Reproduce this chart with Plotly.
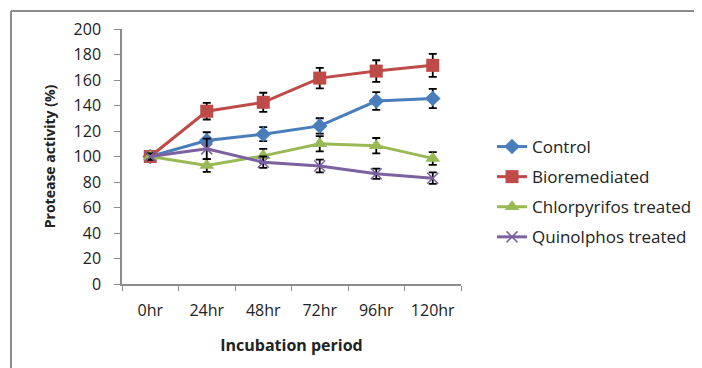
import plotly.graph_objects as go

categories = ["0hr", "24hr", "48hr", "72hr", "96hr", "120hr"]
control = [100, 112.5, 117.5, 124, 143.5, 145.5]
control_err = [2.5, 6.5, 5.5, 6, 7, 7.5]
bioremediated = [100, 135.5, 142.5, 161.5, 167, 171.5]
bioremediated_err = [2.5, 6.5, 7.5, 8, 8.5, 9]
chlorpyrifos = [100, 93, 100.5, 110, 108.5, 98.5]
chlorpyrifos_err = [2.5, 5, 5.5, 6, 6, 5]
quinolphos = [100, 106, 95.5, 92.5, 86.5, 83]
quinolphos_err = [2.5, 8, 4.5, 5, 4, 4.5]
y_ticks = [0, 20, 40, 60, 80, 100, 120, 140, 160, 180, 200]

series = [
    ("Control", control, control_err, "#4A7EBB", "diamond", 12),
    ("Bioremediated", bioremediated, bioremediated_err, "#BE4B48", "square", 13),
    ("Chlorpyrifos treated", chlorpyrifos, chlorpyrifos_err, "#98B954", "triangle-up", 13),
    ("Quinolphos treated", quinolphos, quinolphos_err, "#7D60A0", "x-thin-open", 11),
]

fig = go.Figure()
for i, (name, vals, errs, color, sym, size) in enumerate(series):
    fig.add_trace(go.Scatter(
        x=categories, y=vals, name=name, mode="lines+markers",
        line=dict(color=color, width=3),
        marker=dict(symbol=sym, size=size, color=color,
                    line=dict(width=1.5 if sym.startswith("x") else 0, color=color)),
        error_y=dict(type="data", array=errs, visible=True, color="#000000",
                     thickness=1.8, width=4),
        legendgroup=f"g{i}",
    ))

# page offset (browser body margin)
OFF = 8
W, H = 702, 368
# desired plot area in page pixels: left 122, right 461, top 29, bottom 284
L = 122 - OFF
T = 29 - OFF
pw, ph = 461 - 122, 284 - 29
R = W - L - pw
B = H - T - ph

def px_to_paper_x(page_px):
    return (page_px - OFF - L) / pw

def px_to_paper_y(page_py):
    return (T + ph - (page_py - OFF)) / ph

frame_x = px_to_paper_x(11)
frame_y = px_to_paper_y(11)
fig.add_shape(type="line", xref="paper", yref="paper",
              x0=frame_x, x1=frame_x, y0=px_to_paper_y(H + 20), y1=frame_y,
              line=dict(color="#8C8C8C", width=2))
fig.add_shape(type="line", xref="paper", yref="paper",
              x0=frame_x, x1=px_to_paper_x(W + 20), y0=frame_y, y1=frame_y,
              line=dict(color="#8C8C8C", width=2))

font_family = "Open Sans, Lato, sans-serif"
fig.update_layout(
    width=W, height=H,
    margin=dict(l=L, r=R, t=T, b=B, autoexpand=False),
    paper_bgcolor="white", plot_bgcolor="white",
    font=dict(family=font_family, color="#222222", size=16),
    showlegend=True,
    legend=dict(x=px_to_paper_x(492), y=px_to_paper_y(129), xanchor="left", yanchor="top",
                font=dict(size=17, color="#222222"), tracegroupgap=5,
                itemwidth=30, bgcolor="rgba(0,0,0,0)"),
    xaxis=dict(
        type="category", categoryorder="array", categoryarray=categories,
        range=[-0.5, 5.5], showline=True, linecolor="#8C8C8C", linewidth=1.5,
        ticks="outside", tickson="boundaries", ticklen=5, tickcolor="#8C8C8C",
        showgrid=False, zeroline=False, tickfont=dict(size=16),
        ticklabelstandoff=11,
        title=dict(text="<b>Incubation period</b>", font=dict(size=16), standoff=20),
    ),
    yaxis=dict(
        range=[0, 200], tickvals=y_ticks, showline=True, linecolor="#8C8C8C", linewidth=1.5,
        ticks="outside", ticklen=6, tickcolor="#8C8C8C",
        showgrid=False, zeroline=False, tickfont=dict(size=16),
        ticklabelstandoff=10,
        title=dict(text="<b>Protease activity (%)</b>", font=dict(size=14), standoff=15),
    ),
)

fig.write_html("out.html")
